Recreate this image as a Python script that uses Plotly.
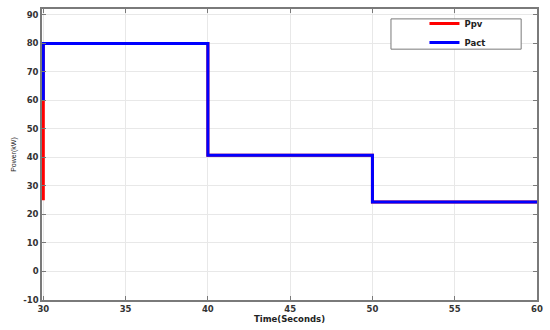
import plotly.graph_objects as go

time_ppv = [30, 30, 40, 40, 50, 50, 60]
ppv = [25, 80, 80, 40.8, 40.8, 24.4, 24.4]
time_pact = [30, 30, 40, 40, 50, 50, 60]
pact = [60, 80, 80, 40.8, 40.8, 24.4, 24.4]
x_ticks = [30, 35, 40, 45, 50, 55, 60]
y_ticks = [-10, 0, 10, 20, 30, 40, 50, 60, 70, 80, 90]
y_tick_labels = ["-10", "0", "10", "20", "30", "40", "50", "60", "70", "80", "90"]

tick_font = dict(family="DejaVu Sans", size=8.5, color="#333333", weight="bold")

fig = go.Figure()
fig.add_trace(go.Scatter(x=time_ppv, y=ppv, mode="lines", name="Ppv",
                         line=dict(color="#ff0000", width=3)))
fig.add_trace(go.Scatter(x=time_pact, y=pact, mode="lines", name="Pact",
                         line=dict(color="#0000ff", width=3)))

axis_common = dict(showline=True, linecolor="#7a7a7a", linewidth=1.5, mirror="ticks",
                   ticks="inside", ticklen=4, tickcolor="#7a7a7a",
                   showgrid=True, gridcolor="#e8e8e8", gridwidth=1,
                   zeroline=False, tickfont=tick_font)

fig.update_xaxes(range=[29.92, 60], tickvals=x_ticks,
                 title=dict(text="Time(Seconds)", standoff=3,
                            font=dict(family="DejaVu Sans", size=8.5, color="#222222", weight="bold")),
                 **axis_common)
fig.update_yaxes(range=[-10, 92.07], tickvals=y_ticks, ticktext=y_tick_labels,
                 title=dict(text="Power(kW)", standoff=6,
                            font=dict(family="Liberation Sans", size=7, color="#222222")),
                 **axis_common)

fig.add_shape(type="rect", xref="paper", yref="paper", x0=0.705, x1=0.968, y0=0.862, y1=0.966,
              line=dict(color="#7a7a7a", width=1), fillcolor="white", layer="above")

fig.update_layout(
    width=550, height=330,
    margin=dict(l=42, r=9, t=7, b=27),
    paper_bgcolor="white", plot_bgcolor="white",
    showlegend=True,
    legend=dict(x=0.906, y=1.0, xanchor="right", yanchor="top",
                bgcolor="rgba(0,0,0,0)", borderwidth=0,
                font=dict(family="DejaVu Sans", size=8.5, color="#222222", weight="bold"),
                tracegroupgap=0, itemwidth=30),
)

fig.write_html("out.html", config={"displayModeBar": False},
               post_script="document.body.style.margin='0';")
